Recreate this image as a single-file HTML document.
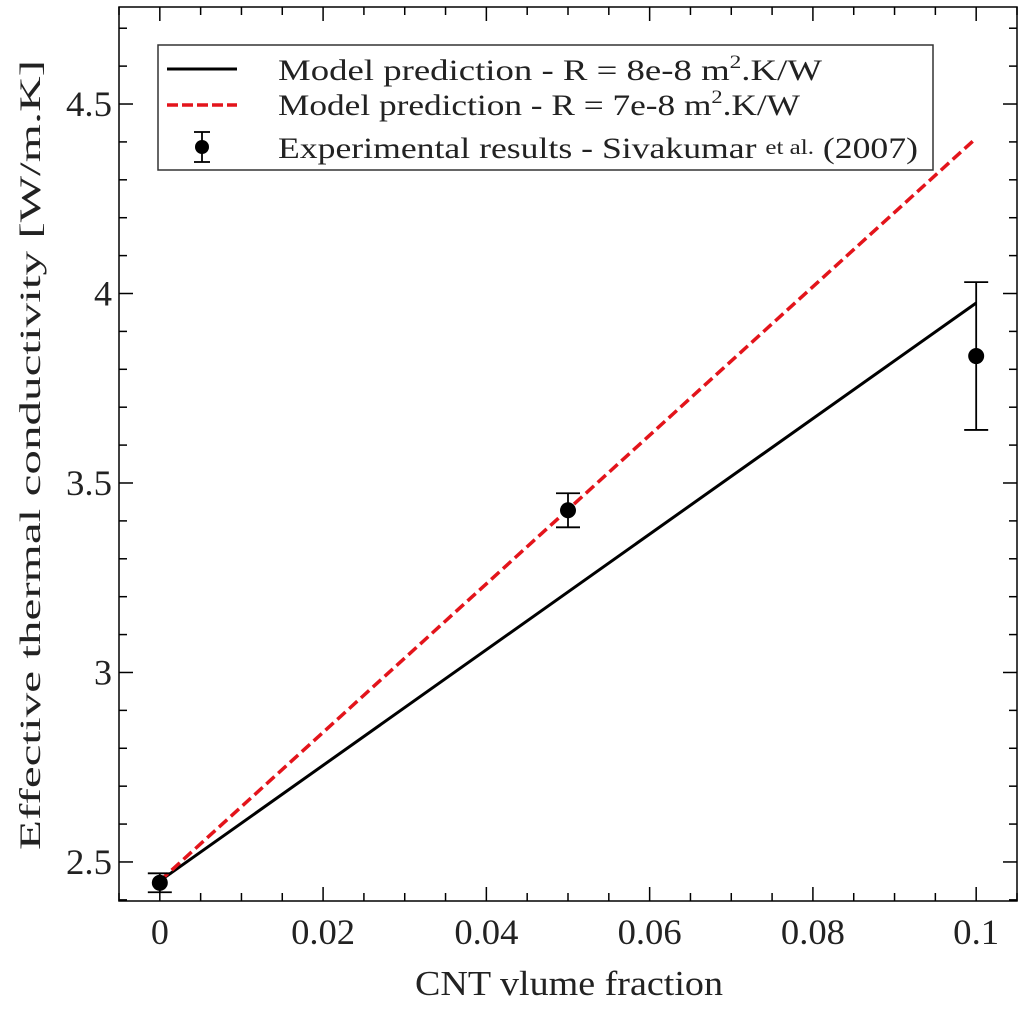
<!DOCTYPE html>
<html><head><meta charset="utf-8"><style>
html,body{margin:0;padding:0;background:#fff;}
svg{display:block;font-family:"Liberation Serif","DejaVu Serif",serif;}
svg text{font-family:"Liberation Serif","DejaVu Serif",serif;}
</style></head><body>
<svg id="chart" width="1024" height="1010" viewBox="0 0 1024 1010" xmlns="http://www.w3.org/2000/svg"></svg>
<script>
const xTickLabels=["0","0.02","0.04","0.06","0.08","0.1"];
const yTickLabels=["2.5","3","3.5","4","4.5"];
const lineX=[0,0.1];
const line1Y=[2.45,3.975];
const line2Y=[2.45,4.41];
const ptsX=[0,0.05,0.1];
const ptsY=[2.445,3.428,3.835];
const ptsErr=[0.025,0.045,0.195];

const L=119,R=1017,T=7,B=901;
const X0=-0.005,X1=0.105,Y0=2.397,Y1=4.756;
const sx=v=>L+(v-X0)/(X1-X0)*(R-L);
const sy=v=>B-(v-Y0)/(Y1-Y0)*(B-T);
const NS="http://www.w3.org/2000/svg";
const svg=document.getElementById('chart');
const FF='Liberation Serif, DejaVu Serif, serif';
function mk(tag,attrs,parent){const e=document.createElementNS(NS,tag);for(const k in attrs)e.setAttribute(k,attrs[k]);if(tag==='text')e.setAttribute('font-family',FF);(parent||svg).appendChild(e);return e;}
function lenOf(s){let w=0;for(const c of s)w+=(c==='.')?10:18;return w;}

// ticks
const tg=mk('g',{stroke:'#000','stroke-width':1.5});


for(let i=-1;i<=21;i++){const v=i*0.005;if(v<X0||v>X1)continue;const x=sx(v);const len=(i%4===0)?14:8;
 mk('line',{x1:x,y1:B,x2:x,y2:B-len},tg);mk('line',{x1:x,y1:T,x2:x,y2:T+len},tg);}
for(let i=24;i<=47;i++){const v=i*0.1;if(v<Y0||v>Y1)continue;const y=sy(v);const len=(i%5===0)?14:8;
 mk('line',{x1:L,y1:y,x2:L+len,y2:y},tg);mk('line',{x1:R,y1:y,x2:R-len,y2:y},tg);}

// tick labels
xTickLabels.forEach(s=>{const a={x:sx(parseFloat(s)),y:944,'font-size':36,'text-anchor':'middle',fill:'#222'};
 if(s.length>1){a.textLength=lenOf(s);a.lengthAdjust='spacingAndGlyphs';}
 const t=mk('text',a);t.textContent=s;
 });
yTickLabels.forEach(s=>{const a={x:112,y:sy(parseFloat(s))+12,'font-size':36,'text-anchor':'end',fill:'#222'};
 if(s.length>1){a.textLength=lenOf(s);a.lengthAdjust='spacingAndGlyphs';}
 const t=mk('text',a);t.textContent=s;
 });

// lines
const l1=mk('line',{x1:sx(lineX[0]),y1:sy(line1Y[0]),x2:sx(lineX[1]),y2:sy(line1Y[1]),stroke:'#000','stroke-width':3});

const l2=mk('line',{x1:sx(lineX[0]),y1:sy(line2Y[0]),x2:sx(lineX[1]),y2:sy(line2Y[1]),stroke:'#e3141b','stroke-width':3.5,'stroke-dasharray':'11,5'});


// points
ptsX.forEach((xv,i)=>{const g=mk('g',{stroke:'#000','stroke-width':1.8});
 
 const x=sx(xv),yt=sy(ptsY[i]+ptsErr[i]),yb=sy(ptsY[i]-ptsErr[i]);
 mk('line',{x1:x,y1:yt,x2:x,y2:yb},g);mk('line',{x1:x-12,y1:yt,x2:x+12,y2:yt},g);mk('line',{x1:x-12,y1:yb,x2:x+12,y2:yb},g);
 mk('circle',{cx:x,cy:sy(ptsY[i]),r:8,fill:'#000',stroke:'none'},g);});

// frame
const fr=mk('rect',{x:L,y:T,width:R-L,height:B-T,fill:'none',stroke:'#000','stroke-width':1.5});


// legend
const lg=mk('g',{});

mk('rect',{x:158,y:45,width:775,height:125,fill:'#fff',stroke:'#333','stroke-width':1.5},lg);
mk('line',{x1:167,y1:69,x2:237,y2:69,stroke:'#000','stroke-width':3},lg);
mk('line',{x1:167,y1:105,x2:237,y2:105,stroke:'#e3141b','stroke-width':3.5,'stroke-dasharray':'11,4'},lg);
mk('line',{x1:202,y1:132,x2:202,y2:162,stroke:'#000','stroke-width':1.8},lg);
mk('line',{x1:194,y1:132,x2:210,y2:132,stroke:'#000','stroke-width':1.8},lg);
mk('line',{x1:194,y1:162,x2:210,y2:162,stroke:'#000','stroke-width':1.8},lg);
mk('circle',{cx:202,cy:147,r:7,fill:'#000'},lg);
const e1=mk('text',{x:278,y:80,'font-size':30,fill:'#222',textLength:544,lengthAdjust:'spacingAndGlyphs'},lg);e1.innerHTML='Model prediction - R = 8e-8 m<tspan font-size="19" dy="-12">2</tspan><tspan dy="12">.K/W</tspan>';

const e2=mk('text',{x:278,y:115,'font-size':30,fill:'#222',textLength:522,lengthAdjust:'spacingAndGlyphs'},lg);e2.innerHTML='Model prediction - R = 7e-8 m<tspan font-size="19" dy="-12">2</tspan><tspan dy="12">.K/W</tspan>';

const e3=mk('text',{x:278,y:158,'font-size':30,fill:'#222',textLength:640,lengthAdjust:'spacingAndGlyphs'},lg);e3.innerHTML='Experimental results - Sivakumar <tspan font-size="21" dy="-4">et al.</tspan><tspan dy="4"> (2007)</tspan>';


// axis titles
const xt=mk('text',{x:569,y:995,'font-size':35,'text-anchor':'middle',fill:'#222',textLength:308,lengthAdjust:'spacingAndGlyphs'});xt.textContent='CNT vlume fraction';

const yt=mk('text',{x:0,y:0,'font-size':30,'text-anchor':'middle',fill:'#222',textLength:790,lengthAdjust:'spacingAndGlyphs',transform:'translate(40,455) rotate(-90)'});yt.textContent='Effective thermal conductivity [W/m.K]';

</script>
</body></html>
